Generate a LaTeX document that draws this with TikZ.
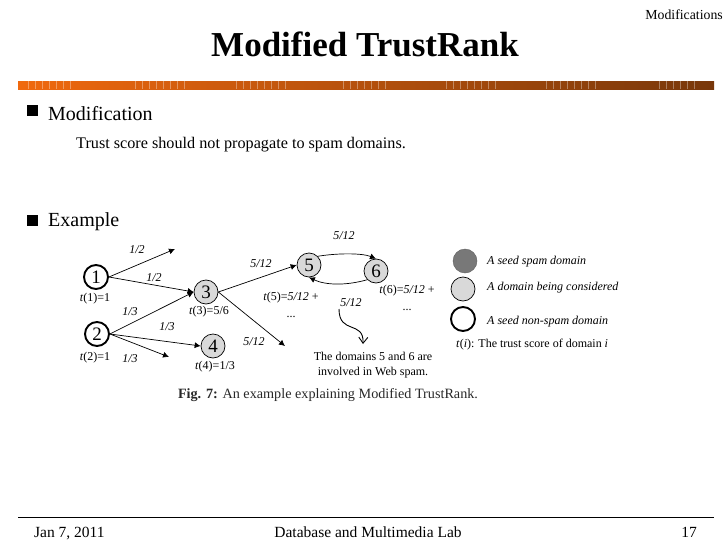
\documentclass[tikz,border=0pt]{standalone}
\usepackage{fontspec}
\setmainfont{Liberation Serif}
\usetikzlibrary{arrows.meta}
\definecolor{barleft}{RGB}{240,105,15}
\definecolor{barright}{RGB}{120,55,10}
\definecolor{consider}{RGB}{217,217,217}
\definecolor{spam}{RGB}{120,120,120}
\definecolor{capgrey}{RGB}{40,40,40}
\tikzset{
  dnode/.style={circle,draw,fill=consider,line width=0.7pt,minimum size=24pt,inner sep=0pt,font=\fontsize{19}{19}\selectfont},
  seed/.style={dnode,fill=white,line width=1.9pt},
  score/.style={font=\fontsize{12}{17}\selectfont,inner sep=0pt,align=center},
  weight/.style={font=\fontsize{12}{14}\selectfont\itshape,inner sep=0pt},
  legendtext/.style={font=\fontsize{12}{14}\selectfont\itshape,anchor=west,inner sep=0pt},
  link/.style={-{Latex[length=6pt,width=6pt]},line width=0.7pt},
  heading/.style={font=\fontsize{20}{24}\selectfont,anchor=west,inner sep=0pt},
  bullet/.style={fill=black,minimum size=11.5pt,inner sep=0pt},
  footer/.style={font=\fontsize{15.5}{18}\selectfont,inner sep=0pt,anchor=base},
}
\begin{document}
\begin{tikzpicture}[x=1pt,y=-1pt]
  \useasboundingbox (0,0) rectangle (728,546);
  \fill[white] (0,0) rectangle (728,546);
  % title area
  \node [font=\fontsize{13.8}{16}\selectfont,inner sep=0pt,anchor=east] (section) at (723,15) {Modifications};
  \node [font=\fontsize{35}{40}\selectfont\bfseries,inner sep=0pt] (title) at (365,44) {Modified TrustRank};
  \shade[left color=barleft,right color=barright] (18,81) rectangle (714,89);
  \foreach \a/\b in {28/75,135/185,236/287,343/385,446/495,546/596,659/699}
    \foreach \x in {\a,\numexpr\a+7\relax,...,\b}
      \draw[white,opacity=0.35,line width=0.5pt] (\x,81) -- (\x,89);
  % text
  \node [bullet] (b1) at (32.5,110.5) {};
  \node [heading] (modif) at (48,114) {Modification};
  \node [font=\fontsize{16.2}{19}\selectfont,inner sep=0pt,anchor=west] (line) at (76,145) {Trust score should not propagate to spam domains.};
  \node [bullet] (b2) at (32.5,220.5) {};
  \node [heading] (example) at (48,222) {Example};
  % graph
  \node [seed] (n1) at (96,277) {1};
  \node [seed] (n2) at (97,334) {2};
  \node [dnode] (n3) at (206,292) {3};
  \node [dnode] (n4) at (213,346) {4};
  \node [dnode] (n5) at (309,265) {5};
  \node [dnode] (n6) at (376,271) {6};
  \coordinate (e1) at (175,249);
  \coordinate (e2) at (169,357);
  \coordinate (e3) at (285,346);
  \draw [link] (n1.east) -- (e1);
  \draw [link] (n1.east) -- (n3.west);
  \draw [link] (n2.east) -- (n3.west);
  \draw [link] (n2.east) -- (n4.west);
  \draw [link] (n2.east) -- (e2);
  \draw [link] (n3.east) -- (n5.west);
  \draw [link] (n3.east) -- (e3);
  \draw [link] (n5.north east) .. controls (338,253) and (362,253) .. (n6.north);
  \draw [link] (n6.south west) .. controls (345,286) and (325,285) .. (n5.south);
  \node [weight] (w1) at (137,250) {1/2};
  \node [weight] (w2) at (154,278) {1/2};
  \node [weight] (w3) at (130,312) {1/3};
  \node [weight] (w4) at (167,327) {1/3};
  \node [weight] (w5) at (130,359) {1/3};
  \node [weight] (w6) at (261,264) {5/12};
  \node [weight] (w7) at (254,342) {5/12};
  \node [weight] (w8) at (344,236) {5/12};
  \node [weight] (w9) at (351,303) {5/12};
  \node [score] (s1) at (95,299) {\textit{t}(1)=1};
  \node [score] (s2) at (95,358) {\textit{t}(2)=1};
  \node [score] (s3) at (209,312) {\textit{t}(3)=5/6};
  \node [score] (s4) at (215,367) {\textit{t}(4)=1/3};
  \node [score] (s5) at (291,305) {\textit{t}(5)=\textit{5/12} +\\...};
  \node [score] (s6) at (407,298) {\textit{t}(6)=\textit{5/12} +\\...};
  \coordinate (c1) at (339,309);
  \coordinate (c2) at (363,344);
  \draw [-{Straight Barb[length=6pt,width=9pt]},line width=0.9pt] (c1) .. controls (339,335) and (364,320) .. (c2);
  \node [score,font=\fontsize{12}{15}\selectfont] (note) at (373,365) {The domains 5 and 6 are\\involved in Web spam.};
  % legend
  \node [circle,draw=spam!80!black,fill=spam,minimum size=24pt,inner sep=0pt] (lspam) at (465,261) {};
  \node [dnode] (lcons) at (463,289) {};
  \node [seed] (lseed) at (463,319) {};
  \node [legendtext] (t1) at (487,262) {A seed spam domain};
  \node [legendtext] (t2) at (487,288) {A domain being considered};
  \node [legendtext] (t3) at (487,322) {A seed non-spam domain};
  \node [score,anchor=west] (t4) at (456,345) {\textit{t}(\textit{i}): The trust score of domain \textit{i}};
  \node [font=\fontsize{14.2}{17}\selectfont,inner sep=0pt,text=capgrey] (fig) at (328,395) {\textbf{Fig. 7:} An example explaining Modified TrustRank.};
  % footer
  \draw [line width=1pt] (18,517) -- (714,517);
  \node [footer,anchor=base west] (date) at (34,537) {Jan 7, 2011};
  \node [footer] (lab) at (368,537) {Database and Multimedia Lab};
  \node [footer] (page) at (689,537) {17};
\end{tikzpicture}
\end{document}
